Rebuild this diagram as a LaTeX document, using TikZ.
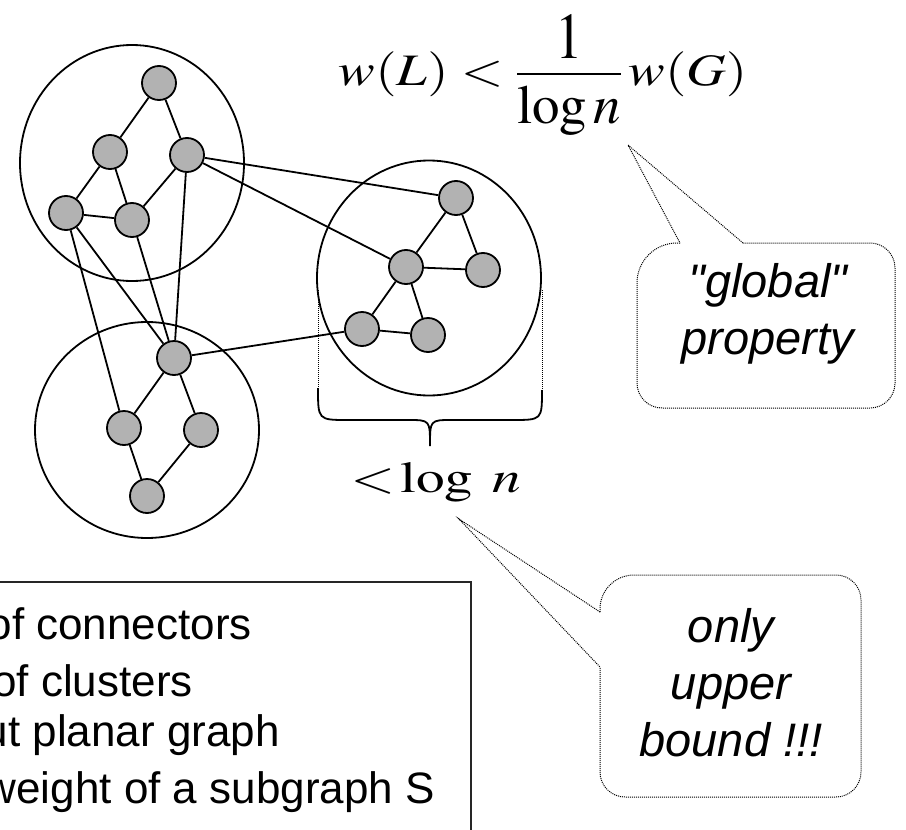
\documentclass[tikz,border=0pt]{standalone}
\usepackage{mathptmx}
\usepackage{graphicx}
\usepackage{fontspec}
\setmainfont{Liberation Sans}
\newfontfamily\calloutfont{Liberation Sans}
\usetikzlibrary{shapes.geometric}

\begin{document}
\begin{tikzpicture}[
        x=1pt, y=-1pt,
        vertex/.style={draw, circle, fill=black!30, line width=1.8pt, minimum size=34pt, inner sep=0pt},
        cluster/.style={draw, ellipse, line width=1.8pt, minimum width=224pt, inner sep=0pt},
        link/.style={line width=1.8pt},
        bubble/.style={densely dotted, line width=1pt},
        note/.style={font=\calloutfont\fontsize{47}{57}\selectfont\itshape, align=center},
        keytext/.style={font=\fontsize{44}{55}\selectfont, inner sep=0pt, anchor=base east}
    ]
    \useasboundingbox (0,0) rectangle (906,830);
    \clip (0,0) rectangle (906,830);

    \node[cluster, minimum height=236pt] (C1) at (132,163) {};
    \node[cluster, minimum height=216pt] (C2) at (147,430) {};
    \node[cluster, minimum height=235pt] (C3) at (429,278) {};

    \node[vertex] (a1) at (159,83) {};
    \node[vertex] (a2) at (110,152) {};
    \node[vertex] (a3) at (187,155) {};
    \node[vertex] (a4) at (66,213) {};
    \node[vertex] (a5) at (132,220) {};

    \node[vertex] (b1) at (174,358) {};
    \node[vertex] (b2) at (124,428) {};
    \node[vertex] (b3) at (201,430) {};
    \node[vertex] (b4) at (147,496) {};

    \node[vertex] (c1) at (456,198) {};
    \node[vertex] (c2) at (406,267) {};
    \node[vertex] (c3) at (483,270) {};
    \node[vertex] (c4) at (362,329) {};
    \node[vertex] (c5) at (428,335) {};

    \draw[link] (a1) -- (a2);
    \draw[link] (a1) -- (a3);
    \draw[link] (a2) -- (a4);
    \draw[link] (a2) -- (a5);
    \draw[link] (a3) -- (a5);
    \draw[link] (a4) -- (a5);
    \draw[link] (a4) -- (b2);
    \draw[link] (a4) -- (b1);
    \draw[link] (a5) -- (b1);
    \draw[link] (a3) -- (b1);
    \draw[link] (a3) -- (c1);
    \draw[link] (a3) -- (c2);
    \draw[link] (b1) -- (b2);
    \draw[link] (b1) -- (b3);
    \draw[link] (b2) -- (b4);
    \draw[link] (b3) -- (b4);
    \draw[link] (b1) -- (c4);
    \draw[link] (c1) -- (c2);
    \draw[link] (c1) -- (c3);
    \draw[link] (c2) -- (c3);
    \draw[link] (c2) -- (c4);
    \draw[link] (c2) -- (c5);
    \draw[link] (c4) -- (c5);

    \draw[bubble] (318,290) -- (318,388);
    \draw[bubble] (542,290) -- (542,390);
    \draw[line width=1.8pt] (318,388) .. controls (318,420) .. (348,420) -- (408,420)
        .. controls (430,420) .. (430,446) .. controls (430,420) .. (452,420) -- (512,420)
        .. controls (542,420) .. (542,390);

    \node[anchor=base, inner sep=0pt] (bound) at (543,85)
        {\scalebox{1.22}[1]{\fontsize{45}{50}\selectfont$\displaystyle w(L)<\frac{\raisebox{-4pt}{\scalebox{1}[1.45]{$1$}}}{\raisebox{-8pt}{\scalebox{1}[1.22]{$\log n$}}}\,w(G)$}};
    \node[anchor=base, inner sep=0pt] (size) at (436,492)
        {\scalebox{1.3}[1]{\fontsize{44}{50}\selectfont$<$\hspace{4pt}$\log$\hspace{15pt}$n$}};

    \coordinate (tipG) at (628,145);
    \draw[bubble] (680,243) [rounded corners=40pt] -- (637,243) [rounded corners=25pt] -- (637,408)
        -- (895,408) -- (895,243) -- (743,243);
    \draw[bubble] (743,243) -- (tipG) -- (680,243);
    \node[note] (global) at (768,314) {"global"\\property};

    \coordinate (tipU) at (459,519);
    \draw[bubble] (600,612) [rounded corners=34pt] -- (600,575) [rounded corners=25pt] -- (861,575)
        -- (861,797) -- (600,797) -- (600,667);
    \draw[bubble] (600,612) -- (tipU) -- (600,667);
    \node[note] (upper) at (731,683) {only\\upper\\bound !!!};

    \draw[line width=1.4pt, black!85] (-10,582) rectangle (471,850);
    \node[keytext] (k1) at (252,639) {of connectors};
    \node[keytext] (k2) at (193,696) {of clusters};
    \node[keytext] (k3) at (280,746) {ut planar graph};
    \node[keytext] (k4) at (435,803) {weight of a subgraph S};
\end{tikzpicture}
\end{document}
